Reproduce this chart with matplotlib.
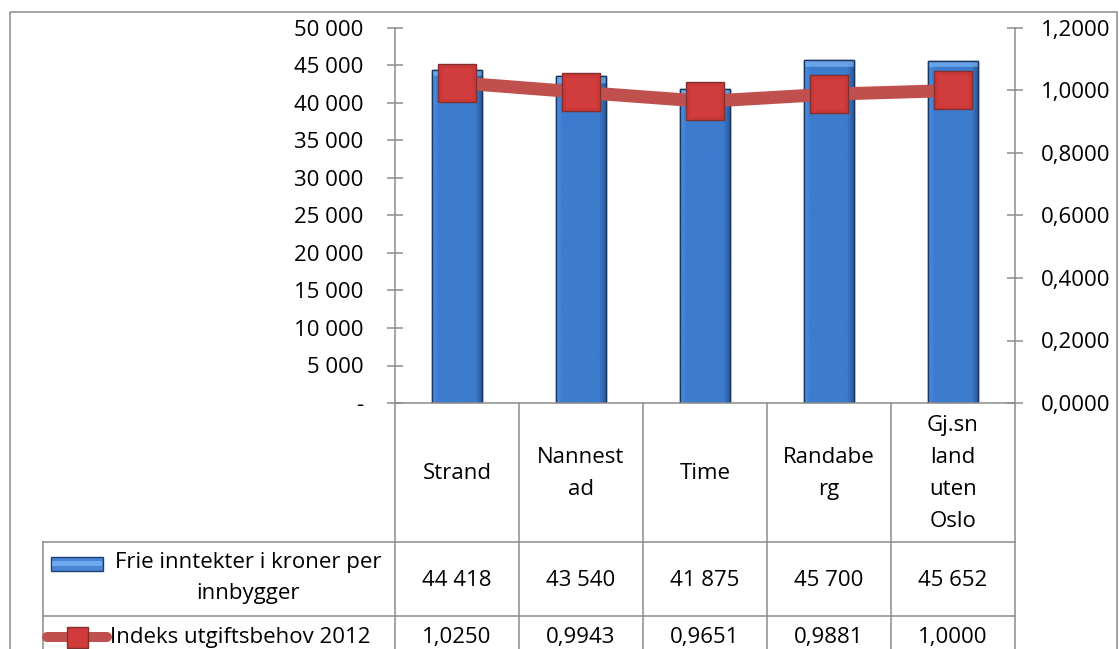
import numpy as np
import matplotlib
matplotlib.use("Agg")
import matplotlib.pyplot as plt
from matplotlib.patches import Rectangle
from matplotlib.lines import Line2D
from matplotlib.transforms import blended_transform_factory
from matplotlib.colors import to_rgb

plt.rcParams['font.family'] = ['Open Sans', 'DejaVu Sans']

# ---------------- data ----------------
categories = ["Strand", "Nannest\nad", "Time", "Randabe\nrg", "Gj.sn\nland\nuten\nOslo"]
frie_inntekter = [44418, 43540, 41875, 45700, 45652]
indeks = [1.0250, 0.9943, 0.9651, 0.9881, 1.0000]
series_names = ["Frie inntekter i kroner per\ninnbygger", "Indeks utgiftsbehov 2012"]
left_ticks = [0, 5000, 10000, 15000, 20000, 25000, 30000, 35000, 40000, 45000, 50000]
right_ticks = [0.0, 0.2, 0.4, 0.6, 0.8, 1.0, 1.2]

W, H = 1119, 649
fig = plt.figure(figsize=(W / 100, H / 100), dpi=100)

GRAY = '#8C8C8C'
FS = 16
px = 0.72  # points per pixel at 100 dpi
LS = 1.68

# overlay axes in pixel coordinates
ov = fig.add_axes([0, 0, 1, 1], zorder=-1)
ov.set_xlim(0, W)
ov.set_ylim(H, 0)
ov.axis('off')

# plot area
L, R, T, B = 395, 1015, 28, 403
ax = fig.add_axes([L / W, 1 - B / H, (R - L) / W, (B - T) / H])
ax.patch.set_visible(False)
ax.set_xlim(-0.5, len(categories) - 0.5)
ax.set_ylim(0, 50000)
ax.set_xticks([])
ax.set_yticks(left_ticks)
ax.set_yticklabels(['-' if v == 0 else f"{v:,}".replace(',', ' ') for v in left_ticks])
for s in ['top', 'right']:
    ax.spines[s].set_visible(False)
for s in ['left', 'bottom']:
    ax.spines[s].set_color(GRAY)
    ax.spines[s].set_linewidth(1.1)
ax.tick_params(axis='y', direction='inout', length=11.5, width=1.1, color=GRAY,
               pad=17, labelsize=FS, labelcolor='black')

# bars with gradient look
bars = ax.bar(range(len(categories)), frie_inntekter, width=0.41,
              color='#3C78C8', edgecolor='#1B365E', linewidth=1.0, zorder=2)
cL = np.array(to_rgb('#4E8FE2'))
cM = np.array(to_rgb('#3D7BCD'))
cR = np.array(to_rgb('#2A5696'))
ncol = 60
xs = np.linspace(0, 1, ncol)
rowcol = np.zeros((ncol, 3))
for i, t in enumerate(xs):
    if t < 0.12:
        rowcol[i] = cL + (cM - cL) * (t / 0.12)
    elif t > 0.85:
        rowcol[i] = cM + (cR - cM) * ((t - 0.85) / 0.15)
    else:
        rowcol[i] = cM
for b, v in zip(bars, frie_inntekter):
    hpx = v / 50000 * (B - T)
    nrow = 400
    img = np.tile(rowcol[None, :, :], (nrow, 1, 1))
    top = max(1, int(round(7 / hpx * nrow)))
    img[:top] = img[:top] * 0.45 + np.array(to_rgb('#8CC4FF')) * 0.55
    x0 = b.get_x()
    im = ax.imshow(img, extent=(x0, x0 + b.get_width(), 0, v), aspect='auto',
                   origin='upper', zorder=2.1, interpolation='bilinear')
    im.set_clip_path(b)
    ax.add_patch(Rectangle((x0, 0), b.get_width(), v, fill=False,
                           edgecolor='#1B365E', linewidth=1.0, zorder=2.2))
ax.set_xlim(-0.5, len(categories) - 0.5)
ax.set_ylim(0, 50000)

# line on secondary axis
ax2 = ax.twinx()
ax2.set_ylim(0, 1.2)
ax2.set_yticks(right_ticks)
ax2.set_yticklabels([f"{v:.4f}".replace('.', ',') for v in right_ticks])
for s in ['top', 'left', 'bottom']:
    ax2.spines[s].set_visible(False)
ax2.spines['right'].set_color(GRAY)
ax2.spines['right'].set_linewidth(1.1)
ax2.tick_params(axis='y', direction='inout', length=11.5, width=1.1, color=GRAY,
                pad=13, labelsize=FS, labelcolor='black')
ax2.plot(range(len(categories)), indeks, color='#C0504D', linewidth=13 * px,
         solid_capstyle='butt', zorder=3)
ax2.plot(range(len(categories)), indeks, linestyle='none', marker='s',
         markersize=38 * px, markerfacecolor='#CC3838', markeredgecolor='#80302E',
         markeredgewidth=1.0, zorder=4)
ax2.plot(range(len(categories)), indeks, linestyle='none', marker='s',
         markersize=30 * px, markerfacecolor='#D23E3E', markeredgecolor='none',
         zorder=4.1)

# ---------------- data table ----------------
bt = blended_transform_factory(ax.transData, ov.transData)
ROW0, ROW1, ROW2, ROW3 = 403, 542, 616, 700
LEG_L = 43
ncat = len(categories)
for i in range(ncat + 1):
    xb = i - 0.5
    ov.add_line(Line2D([xb, xb], [ROW0, ROW3], transform=bt, color=GRAY, lw=1.1))
ov.add_line(Line2D([LEG_L, LEG_L], [ROW1, ROW3], color=GRAY, lw=1.1))
for yy in (ROW1, ROW2):
    ov.add_line(Line2D([LEG_L, R], [yy, yy], color=GRAY, lw=1.1))

for i, c in enumerate(categories):
    ov.text(i, (ROW0 + ROW1) / 2 + 1, c, transform=bt, ha='center', va='center',
            fontsize=FS, linespacing=LS, multialignment='center')
    ov.text(i, (ROW1 + ROW2) / 2 + 1, f"{frie_inntekter[i]:,}".replace(',', ' '),
            transform=bt, ha='center', va='center', fontsize=FS)
    ov.text(i, 637, f"{indeks[i]:.4f}".replace('.', ','), transform=bt,
            ha='center', va='center', fontsize=FS)

# legend keys in table
ov.add_patch(Rectangle((51, 557), 52, 14, facecolor='#4A86D6', edgecolor='#1F3F73', lw=1.0))
ov.add_patch(Rectangle((52, 561), 50, 5, facecolor='#6FA8EE', edgecolor='none'))
ov.text(248, (ROW1 + ROW2) / 2 - 1, series_names[0], ha='center', va='center',
        fontsize=FS, linespacing=LS, multialignment='center')
ov.add_line(Line2D([47, 107], [637, 637], color='#C0504D', lw=10 * px, solid_capstyle='round'))
ov.add_line(Line2D([77], [637], marker='s', markersize=21 * px, markerfacecolor='#D03A3A',
                   markeredgecolor='#80302E', markeredgewidth=1.0, linestyle='none'))
ov.text(110, 637, series_names[1], ha='left', va='center', fontsize=FS)

# chart border
ov.add_patch(Rectangle((10, 12), 1107, 700, fill=False, edgecolor=GRAY, lw=1.1))

fig.savefig('out.png', dpi=100)
